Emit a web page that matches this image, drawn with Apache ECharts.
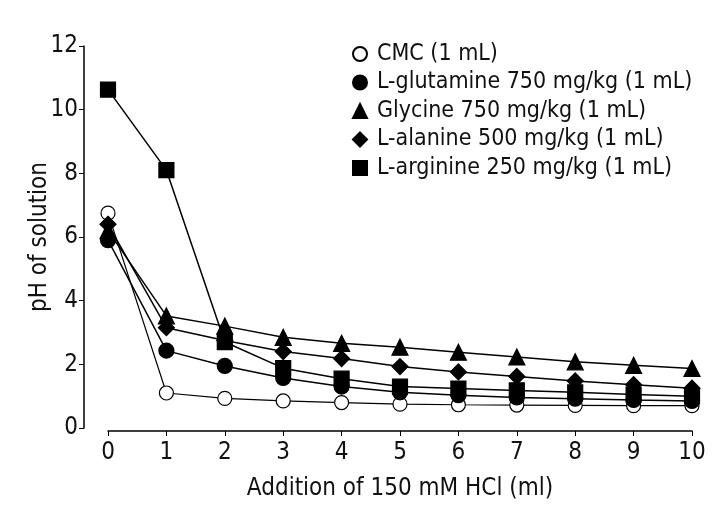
<!DOCTYPE html>
<html>
<head>
<meta charset="utf-8">
<script src="https://cdn.jsdelivr.net/npm/echarts@6/dist/echarts.min.js"></script>
<style>
  html, body { margin: 0; padding: 0; background: #fff; }
  #chart { width: 720px; height: 520px; }
</style>
</head>
<body>
<div id="chart"></div>
<script>
// volume of 150 mM HCl added (ml)
const xValues = [0, 1, 2, 3, 4, 5, 6, 7, 8, 9, 10];

const cmc       = [6.75, 1.10, 0.93, 0.85, 0.80, 0.75, 0.73, 0.72, 0.71, 0.70, 0.70];
const glutamine = [5.90, 2.43, 1.95, 1.57, 1.30, 1.12, 1.03, 0.96, 0.92, 0.88, 0.85];
const glycine   = [6.20, 3.52, 3.20, 2.85, 2.66, 2.54, 2.38, 2.23, 2.08, 1.97, 1.87];
const alanine   = [6.40, 3.15, 2.75, 2.40, 2.18, 1.93, 1.76, 1.62, 1.48, 1.36, 1.25];
const arginine  = [10.63, 8.10, 2.70, 1.88, 1.55, 1.30, 1.24, 1.18, 1.12, 1.05, 1.00];

const names = [
  "CMC (1 mL)",
  "L-glutamine 750 mg/kg (1 mL)",
  "Glycine 750 mg/kg (1 mL)",
  "L-alanine 500 mg/kg (1 mL)",
  "L-arginine 250 mg/kg (1 mL)"
];

const FONT = "'Liberation Sans Narrow', 'DejaVu Sans Condensed', sans-serif";

function pairs(ys) {
  return xValues.map((x, i) => [x, ys[i]]);
}

function line(name, ys, symbol, size, fill, width) {
  return {
    name: name,
    type: "line",
    data: pairs(ys),
    symbol: symbol,
    symbolSize: size,
    lineStyle: { color: "#000", width: width },
    itemStyle: { color: fill, borderColor: "#000", borderWidth: 1.2 },
    emphasis: { disabled: true },
    animation: false
  };
}

const chart = echarts.init(document.getElementById("chart"));

chart.setOption({
  backgroundColor: "#fff",
  grid: { left: 108, right: 28, top: 46, bottom: 92 },
  // y axis title placed by hand, the axis name got pushed too far out
  graphic: [{
    type: "text",
    x: 40,
    y: 237,
    rotation: Math.PI / 2,
    style: {
      text: "pH of solution",
      fontFamily: FONT,
      fontSize: 24,
      fill: "#111",
      align: "center",
      verticalAlign: "middle"
    }
  }],
  legend: {
    orient: "vertical",
    left: 347,
    top: 37,
    itemWidth: 14,
    itemHeight: 14,
    itemGap: 4.5,
    data: [
      { name: names[0], icon: "circle" },
      { name: names[1], icon: "circle" },
      { name: names[2], icon: "triangle" },
      { name: names[3], icon: "diamond" },
      { name: names[4], icon: "rect" }
    ],
    textStyle: { fontFamily: FONT, fontSize: 23, color: "#111", lineHeight: 24, padding: [0, 0, 0, 5] }
  },
  xAxis: {
    type: "value",
    min: 0,
    max: 10,
    interval: 1,
    offset: 3,
    name: "Addition of 150 mM HCl (ml)",
    nameLocation: "middle",
    nameGap: 46,
    nameTextStyle: { fontFamily: FONT, fontSize: 24, color: "#111" },
    axisLine: { onZero: false, lineStyle: { color: "#000", width: 1.5 } },
    axisTick: { length: 5, lineStyle: { color: "#000" } },
    axisLabel: { fontFamily: FONT, fontSize: 24, color: "#111", margin: 10 },
    splitLine: { show: false }
  },
  yAxis: {
    type: "value",
    min: 0,
    max: 12,
    interval: 2,
    offset: 24,
    axisLine: { show: true, onZero: false, lineStyle: { color: "#000", width: 1.5 } },
    axisTick: { show: true, length: 5, lineStyle: { color: "#000" } },
    axisLabel: { fontFamily: FONT, fontSize: 24, color: "#111", margin: 6 },
    splitLine: { show: false }
  },
  series: [
    line(names[0], cmc, "circle", 14, "#fff", 1.2),
    line(names[1], glutamine, "circle", 15, "#000", 1.5),
    line(names[2], glycine, "triangle", 16, "#000", 1.5),
    line(names[3], alanine, "diamond", 16, "#000", 1.5),
    line(names[4], arginine, "rect", 15, "#000", 1.5)
  ]
});
</script>
</body>
</html>
